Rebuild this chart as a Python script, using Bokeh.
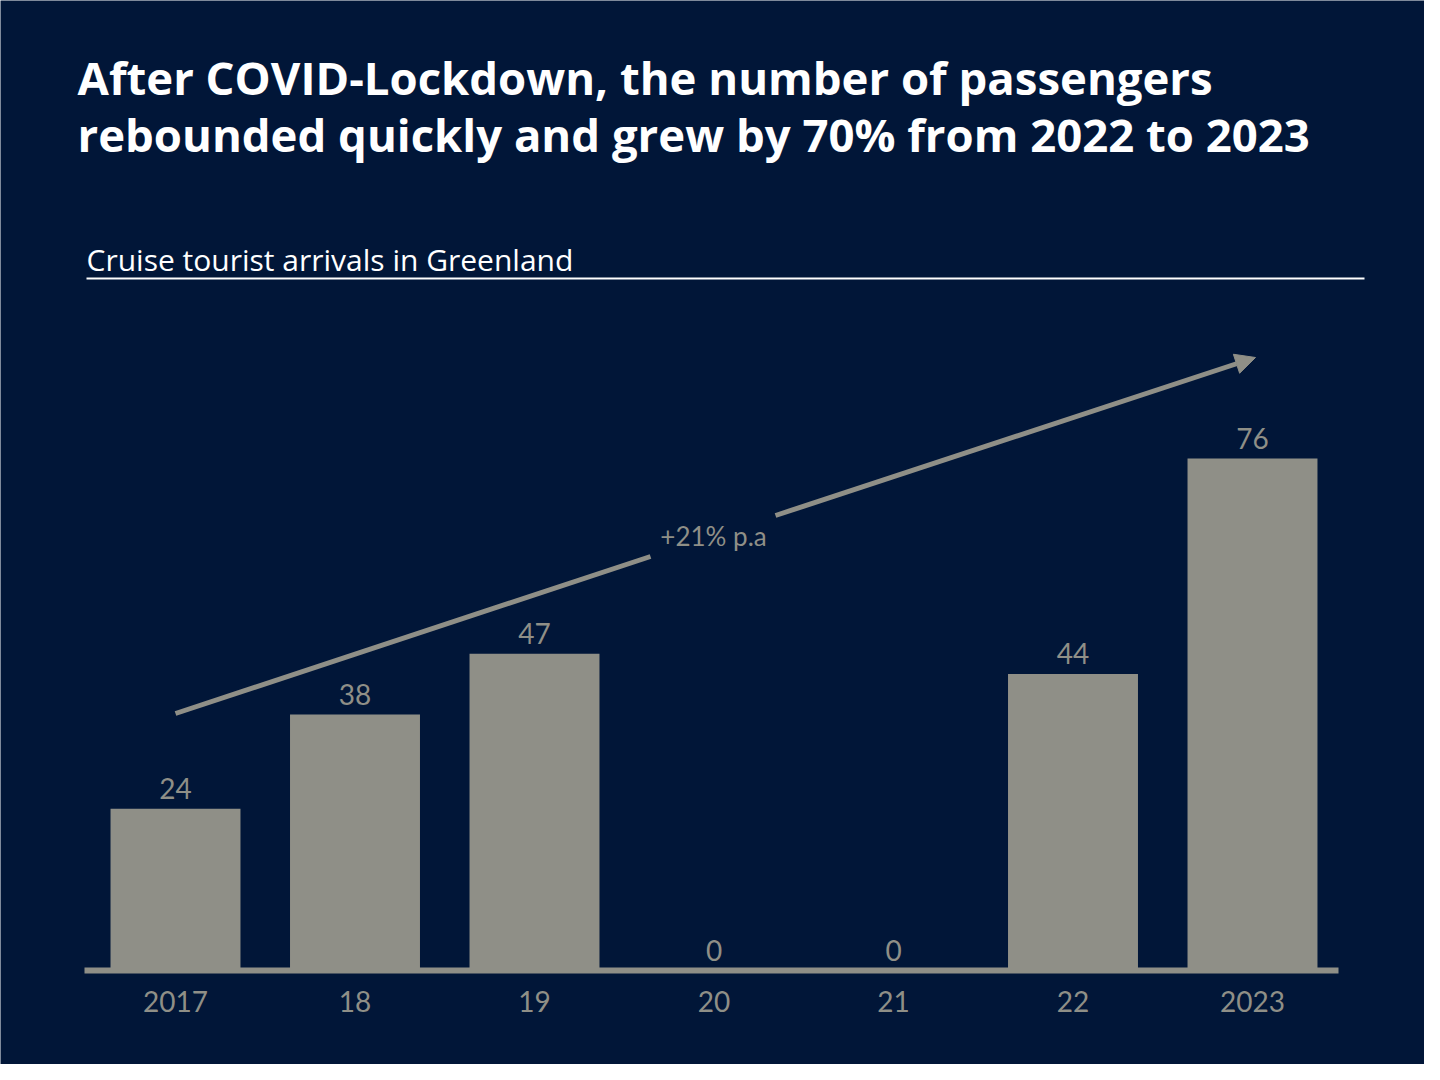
from bokeh.plotting import figure
from bokeh.models import Range1d, Arrow, NormalHead, ColumnDataSource
from bokeh.core.properties import value
from bokeh.embed import file_html
from bokeh.resources import INLINE

# ---- data ----
years = ["2017", "18", "19", "20", "21", "22", "2023"]
arrivals = [24, 38, 47, 0, 0, 44, 76]          # thousand cruise tourists
value_labels = [str(v) for v in arrivals]
title_lines = ["After COVID-Lockdown, the number of passengers",
               "rebounded quickly and grew by 70% from 2022 to 2023"]
subtitle = "Cruise tourist arrivals in Greenland"
cagr_label = "+21% p.a"

# ---- styling ----
BG = "#011638"
GREY = "#8f8f87"
NUMFONT = "Lato"
TFONT = "Open Sans"
W, H = 1424, 1064

# canvas-pixel -> data helpers (for annotation placement only)
X_PER_PX = 1 / 179.5
Y_PER_PX = 76 / 512.0
def dx(px):
    return (px - 175) * X_PER_PX
def dy(py):
    return (970 - py) * Y_PER_PX

idx = list(range(len(years)))

p = figure(width=W, height=H, output_backend="svg", toolbar_location=None,
           x_range=Range1d(dx(0), dx(W)), y_range=Range1d(dy(H), dy(0)),
           x_axis_location=None, y_axis_location=None,
           min_border=0)
p.background_fill_color = BG
p.border_fill_color = BG
p.outline_line_color = None
p.grid.visible = False

src = ColumnDataSource(dict(x=idx, top=arrivals, lab=value_labels, yr=years,
                            ty=[dy(1001)] * len(years)))
p.vbar(x="x", top="top", bottom=0, width=0.724, source=src,
       fill_color=GREY, line_color=None)
p.text(x="x", y="top", text="lab", source=src, y_offset=-10,
       text_align="center", text_baseline="bottom",
       text_font=value(NUMFONT), text_font_size="28px", text_color=GREY)
# category labels
p.text(x="x", y="ty", text="yr", source=src,
       text_align="center", text_baseline="middle",
       text_font=value(NUMFONT), text_font_size="28px", text_color=GREY)

# baseline
p.segment(x0=[dx(84)], y0=[0], x1=[dx(1338)], y1=[0],
          line_color=GREY, line_width=6)

# trend arrow with gap for label
p.segment(x0=[dx(175)], y0=[dy(713)], x1=[dx(650)], y1=[dy(556)],
          line_color=GREY, line_width=5)
p.add_layout(Arrow(end=NormalHead(size=20, fill_color=GREY, line_color=GREY),
                   x_start=dx(775), y_start=dy(515), x_end=dx(1255), y_end=dy(357),
                   line_color=GREY, line_width=5))
p.text(x=[dx(713)], y=[dy(535)], text=[cagr_label], text_align="center",
       text_baseline="middle", text_font=value(NUMFONT), text_font_size="26px",
       text_color=GREY)

# title & subtitle
p.text(x=[dx(77), dx(77)], y=[dy(76), dy(133)], text=title_lines,
       text_align="left", text_baseline="middle", text_font=value(TFONT),
       text_font_style="bold", text_font_size="45.5px", text_color="white")
p.text(x=[dx(86)], y=[dy(259)], text=[subtitle], text_align="left",
       text_baseline="middle", text_font=value(TFONT),
       text_font_size="30px", text_color="white")
p.segment(x0=[dx(86)], y0=[dy(278)], x1=[dx(1364)], y1=[dy(278)],
          line_color="white", line_width=2)

html = file_html(p, INLINE)
html = html.replace("<body>", '<body style="background:%s">' % BG, 1)
open("out.html", "w").write(html)
